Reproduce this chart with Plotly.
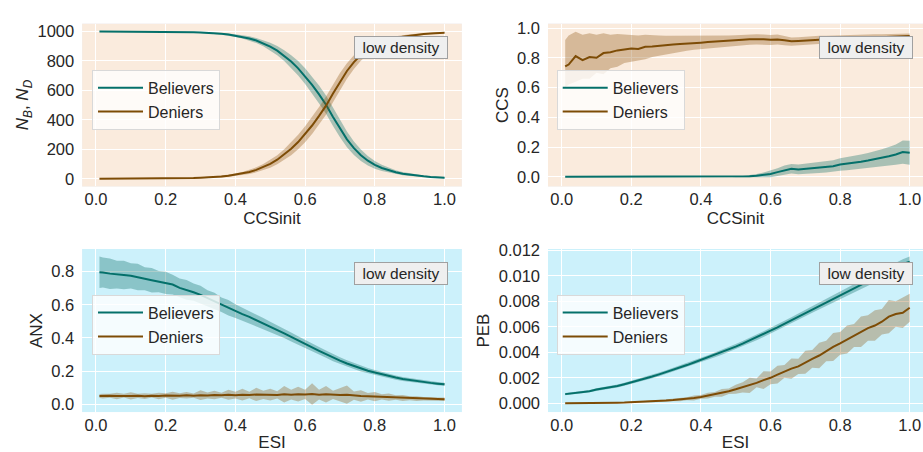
import plotly.graph_objects as go

# ---------------- data ----------------
X = [0.01] + [round(0.02 * k, 2) for k in range(1, 51)]

N_B = [1000, 1000, 1000, 1000, 1000, 1000, 1000, 999, 999, 999, 998,
       998, 997, 996, 995, 993, 991, 988, 984, 979, 972,
       964, 953, 939, 921, 898, 870, 836, 796, 750, 697,
       638, 573, 503, 420, 340, 268, 208, 160, 123, 95,
       74, 58, 45, 35, 28, 22, 17, 13, 10, 8]
N_D = [0, 0, 0, 0, 0, 0, 0, 1, 1, 1, 2,
       2, 3, 4, 5, 7, 9, 12, 16, 21, 28,
       36, 47, 61, 79, 102, 130, 164, 204, 250, 303,
       362, 427, 497, 580, 660, 732, 792, 840, 877, 905,
       926, 942, 955, 965, 972, 978, 983, 987, 990, 992]
N_SD = [1, 1, 1, 1, 1, 1, 1, 1, 1, 1, 2,
        2, 2, 2, 3, 3, 4, 5, 6, 7, 9,
        11, 14, 17, 21, 26, 31, 37, 43, 49, 54,
        58, 61, 62, 61, 58, 53, 46, 39, 32, 26,
        21, 17, 13, 11, 9, 7, 6, 5, 4, 4]

CCS_B = [0.0] * 26 + [0.002, 0.004, 0.008, 0.014, 0.020,
                      0.032, 0.046, 0.055, 0.050, 0.055, 0.059, 0.062, 0.066, 0.072, 0.083,
                      0.088, 0.093, 0.102, 0.110, 0.118, 0.128, 0.138, 0.150, 0.167, 0.162]
CCS_B_SD = [0.0] * 25 + [0.002, 0.004, 0.007, 0.011, 0.016, 0.022,
                         0.026, 0.030, 0.032, 0.033, 0.034, 0.035, 0.036, 0.037, 0.039, 0.042,
                         0.044, 0.046, 0.048, 0.050, 0.053, 0.057, 0.062, 0.068, 0.078, 0.080]
CCS_D = [0.742, 0.755, 0.812, 0.785, 0.805, 0.800, 0.832, 0.838, 0.850, 0.855, 0.862,
         0.860, 0.874, 0.876, 0.882, 0.885, 0.890, 0.893, 0.895, 0.900, 0.902,
         0.906, 0.910, 0.913, 0.916, 0.919, 0.922, 0.925, 0.927, 0.925, 0.921,
         0.924, 0.918, 0.912, 0.914, 0.918, 0.920, 0.922, 0.923, 0.925, 0.927,
         0.929, 0.931, 0.934, 0.936, 0.938, 0.940, 0.943, 0.945, 0.947, 0.947]
CCS_D_LO = [0.60, 0.62, 0.64, 0.66, 0.66, 0.70, 0.69, 0.73, 0.74, 0.765, 0.77,
            0.78, 0.79, 0.805, 0.815, 0.825, 0.833, 0.84, 0.848, 0.855, 0.86,
            0.865, 0.87, 0.873, 0.876, 0.88, 0.884, 0.888, 0.89, 0.89, 0.886,
            0.89, 0.885, 0.882, 0.885, 0.89, 0.893, 0.896, 0.898, 0.90, 0.903,
            0.906, 0.909, 0.912, 0.915, 0.918, 0.921, 0.924, 0.927, 0.93, 0.93]
CCS_D_HI = [0.92, 0.95, 0.975, 0.955, 0.965, 0.955, 0.965, 0.955, 0.96, 0.955, 0.952,
            0.95, 0.955, 0.95, 0.95, 0.948, 0.948, 0.947, 0.946, 0.946, 0.945,
            0.946, 0.947, 0.948, 0.95, 0.952, 0.955, 0.957, 0.958, 0.957, 0.953,
            0.957, 0.945, 0.937, 0.938, 0.942, 0.947, 0.948, 0.948, 0.95, 0.951,
            0.952, 0.953, 0.955, 0.956, 0.958, 0.959, 0.96, 0.962, 0.964, 0.964]

ANX_B = [0.796, 0.795, 0.788, 0.782, 0.780, 0.775, 0.768, 0.757, 0.748, 0.740, 0.732,
         0.722, 0.702, 0.690, 0.676, 0.660, 0.640, 0.622, 0.600, 0.582, 0.562,
         0.544, 0.527, 0.508, 0.486, 0.466, 0.448, 0.428, 0.406, 0.384, 0.362,
         0.342, 0.322, 0.302, 0.281, 0.263, 0.246, 0.230, 0.215, 0.202, 0.192,
         0.181, 0.171, 0.161, 0.153, 0.146, 0.140, 0.134, 0.129, 0.124, 0.120]
ANX_B_SD = [0.095, 0.090, 0.092, 0.083, 0.086, 0.076, 0.080, 0.070, 0.074, 0.064, 0.067,
            0.060, 0.056, 0.059, 0.052, 0.055, 0.048, 0.050, 0.044, 0.047, 0.042,
            0.040, 0.038, 0.036, 0.034, 0.032, 0.030, 0.028, 0.027, 0.026, 0.025,
            0.024, 0.023, 0.022, 0.021, 0.020, 0.019, 0.018, 0.017, 0.016, 0.015,
            0.014, 0.013, 0.013, 0.012, 0.012, 0.011, 0.011, 0.010, 0.010, 0.010]
ANX_D = [0.050, 0.049, 0.051, 0.050, 0.052, 0.050, 0.051, 0.049, 0.052, 0.050, 0.053,
         0.051, 0.052, 0.054, 0.052, 0.055, 0.053, 0.056, 0.054, 0.057, 0.055,
         0.058, 0.056, 0.059, 0.057, 0.058, 0.056, 0.060, 0.058, 0.061, 0.059,
         0.062, 0.058, 0.060, 0.057, 0.056, 0.058, 0.052, 0.050, 0.048, 0.046,
         0.045, 0.043, 0.041, 0.038, 0.036, 0.034, 0.033, 0.032, 0.031, 0.030]
ANX_D_SD = [0.012, 0.015, 0.012, 0.020, 0.012, 0.022, 0.013, 0.018, 0.012, 0.020, 0.014,
            0.024, 0.015, 0.020, 0.013, 0.030, 0.018, 0.026, 0.015, 0.030, 0.020,
            0.035, 0.020, 0.040, 0.025, 0.035, 0.022, 0.050, 0.030, 0.045, 0.028,
            0.065, 0.030, 0.050, 0.025, 0.040, 0.055, 0.025, 0.035, 0.020, 0.028,
            0.016, 0.022, 0.014, 0.018, 0.012, 0.014, 0.010, 0.012, 0.009, 0.010]

PEB_B = [0.00072, 0.00075, 0.00082, 0.00088, 0.00095, 0.00108, 0.00116, 0.00125, 0.00136, 0.00150, 0.00164,
         0.00178, 0.00194, 0.00210, 0.00227, 0.00244, 0.00262, 0.00280, 0.00300, 0.00320, 0.00340,
         0.00360, 0.00380, 0.00400, 0.00422, 0.00445, 0.00468, 0.00492, 0.00517, 0.00543, 0.00570,
         0.00596, 0.00624, 0.00652, 0.00680, 0.00708, 0.00736, 0.00764, 0.00792, 0.00820, 0.00848,
         0.00875, 0.00902, 0.00930, 0.00958, 0.00985, 0.01012, 0.01040, 0.01068, 0.01092, 0.01112]
PEB_B_SD = [0.00008, 0.00008, 0.00009, 0.00009, 0.0001, 0.0001, 0.00011, 0.00011, 0.00012, 0.00012, 0.00013,
            0.00013, 0.00014, 0.00014, 0.00015, 0.00015, 0.00016, 0.00016, 0.00017, 0.00017, 0.00018,
            0.00018, 0.00019, 0.00019, 0.0002, 0.0002, 0.00021, 0.00021, 0.00022, 0.00022, 0.00023,
            0.00023, 0.00024, 0.00024, 0.00025, 0.00025, 0.00026, 0.00027, 0.00028, 0.00029, 0.0003,
            0.00031, 0.00032, 0.00033, 0.00034, 0.00035, 0.00036, 0.00037, 0.00038, 0.00039, 0.0004]
PEB_D = [0.0, 0.0, 0.0, 0.00001, 0.00001, 0.00002, 0.00003, 0.00004, 0.00005, 0.00006, 0.00008,
         0.0001, 0.00012, 0.00015, 0.00018, 0.00022, 0.00026, 0.0003, 0.00036, 0.00042, 0.0005,
         0.0006, 0.0007, 0.00082, 0.00095, 0.0011, 0.00125, 0.0014, 0.0016, 0.00182, 0.002,
         0.00225, 0.0025, 0.00272, 0.0029, 0.00322, 0.00348, 0.00375, 0.0041, 0.00442, 0.0047,
         0.005, 0.00532, 0.00562, 0.0059, 0.0061, 0.0064, 0.0068, 0.007, 0.0071, 0.0075]
PEB_D_SD = [0.00001, 0.00001, 0.00001, 0.00001, 0.00001, 0.00002, 0.00002, 0.00002, 0.00002, 0.00003, 0.00003,
            0.00004, 0.00005, 0.00006, 0.00008, 0.0001, 0.00009, 0.00014, 0.00012, 0.0002, 0.00015,
            0.00022, 0.00018, 0.0003, 0.00022, 0.00035, 0.0004, 0.0006, 0.00035, 0.0007, 0.0005,
            0.0007, 0.0005, 0.0008, 0.0006, 0.0009, 0.0007, 0.001, 0.0008, 0.0011, 0.0009,
            0.0011, 0.0009, 0.0012, 0.001, 0.0012, 0.001, 0.0013, 0.001, 0.0012, 0.0011]

SERIES = ["Believers", "Deniers"]
X_TITLES = ["CCSinit", "CCSinit", "ESI", "ESI"]
Y_TITLES = ["<i>N</i><sub><i>B</i></sub>, <i>N</i><sub><i>D</i></sub>", "CCS", "ANX", "PEB"]
ANNOT_TEXT = "low density"

# ---------------- style ----------------
TEAL = "#04706a"
BROWN = "#7d4c06"
TEAL_FILL = "rgba(1,102,94,0.32)"
BROWN_FILL = "rgba(140,81,10,0.32)"
BG_TOP = "#faebdd"
BG_BOT = "#ccf1fb"
FONT = "Liberation Sans, Arial, sans-serif"
TXT = "#262626"

W, H = 923, 452
def px(v):
    return v / W
def py(v):
    return 1 - v / H

XDOM = [[px(82.2), px(461.8)], [px(548), 1.0]]
YDOM = [[py(182), py(16)], [py(412.3), py(246)]]
XRANGE = [[-0.0395, 1.0495], [-0.0394, 1.0382]]

fig = go.Figure()

def band(lo, hi, fill, ax):
    fig.add_trace(go.Scatter(
        x=X + X[::-1], y=list(hi) + list(lo)[::-1], fill="toself",
        fillcolor=fill, line=dict(width=0), mode="lines",
        showlegend=False, hoverinfo="skip", xaxis="x" + ax, yaxis="y" + ax))

def line(y, color, name, ax, leg):
    fig.add_trace(go.Scatter(
        x=X, y=y, mode="lines", line=dict(color=color, width=2),
        name=name, legend=leg, xaxis="x" + ax, yaxis="y" + ax))

def pm(m, s, sign):
    return [a + sign * b for a, b in zip(m, s)]

panels = [
    (N_B, pm(N_B, N_SD, -1), pm(N_B, N_SD, 1), N_D, pm(N_D, N_SD, -1), pm(N_D, N_SD, 1)),
    (CCS_B, pm(CCS_B, CCS_B_SD, -1), pm(CCS_B, CCS_B_SD, 1), CCS_D, CCS_D_LO, CCS_D_HI),
    (ANX_B, pm(ANX_B, ANX_B_SD, -1), pm(ANX_B, ANX_B_SD, 1), ANX_D, pm(ANX_D, ANX_D_SD, -1), pm(ANX_D, ANX_D_SD, 1)),
    (PEB_B, pm(PEB_B, PEB_B_SD, -1), pm(PEB_B, PEB_B_SD, 1), PEB_D, pm(PEB_D, PEB_D_SD, -1), pm(PEB_D, PEB_D_SD, 1)),
]

axids = ["", "2", "3", "4"]
legids = ["legend", "legend2", "legend3", "legend4"]
for i, (bm, blo, bhi, dm, dlo, dhi) in enumerate(panels):
    ax = axids[i]
    band(blo, bhi, TEAL_FILL, ax)
    line(bm, TEAL, SERIES[0], ax, legids[i])
    band(dlo, dhi, BROWN_FILL, ax)
    line(dm, BROWN, SERIES[1], ax, legids[i])

YRANGE = [[-51, 1053], [-0.0639, 1.0296], [-0.0473, 0.936], [-0.00069, 0.0121]]
YTICKS = [[0, 200, 400, 600, 800, 1000], [0, 0.2, 0.4, 0.6, 0.8, 1.0],
          [0, 0.2, 0.4, 0.6, 0.8], [0, 0.002, 0.004, 0.006, 0.008, 0.010, 0.012]]
YFMT = ["d", ".1f", ".1f", ".3f"]
XTICKS = [0, 0.2, 0.4, 0.6, 0.8, 1.0]

layout = dict(
    width=W, height=H, margin=dict(l=0, r=0, t=0, b=0),
    paper_bgcolor="white", font=dict(family=FONT, color=TXT, size=16),
    showlegend=True, shapes=[], annotations=[],
)

for i in range(4):
    col, row = i % 2, i // 2
    ax = axids[i]
    bg = BG_TOP if row == 0 else BG_BOT
    layout["xaxis" + ax] = dict(
        domain=XDOM[col], range=XRANGE[col], anchor="y" + ax,
        tickvals=XTICKS, tickformat=".1f", showgrid=True, gridcolor="white", gridwidth=1.2,
        zeroline=False, showline=False, ticks="", ticklabelstandoff=1,
        tickfont=dict(size=16.5, color=TXT),
        title=dict(text=X_TITLES[i], font=dict(size=17, color=TXT), standoff=5),
    )
    layout["yaxis" + ax] = dict(
        domain=YDOM[row], range=YRANGE[i], anchor="x" + ax,
        tickvals=YTICKS[i], tickformat=YFMT[i], showgrid=True, gridcolor="white", gridwidth=1.2,
        zeroline=False, showline=False, ticks="", ticklabelstandoff=7,
        tickfont=dict(size=16.5, color=TXT),
        title=dict(text=Y_TITLES[i], font=dict(size=17, color=TXT), standoff=4),
    )
    # plot background
    layout["shapes"].append(dict(
        type="rect", xref="x" + ax + " domain", yref="y" + ax + " domain",
        x0=0, x1=1, y0=0, y1=1, fillcolor=bg, line=dict(width=0), layer="below"))
    # legend
    layout[legids[i]] = dict(
        x=px(92 if col == 0 else 556.7), y=py(63.0 if row == 0 else 292.5),
        xanchor="left", yanchor="top", xref="paper", yref="paper",
        bgcolor="rgba(255,255,255,0.8)", bordercolor="#d9d9d9", borderwidth=1,
        font=dict(size=16, color=TXT, family=FONT), itemwidth=45, tracegroupgap=0,
    )
    # annotation
    layout["annotations"].append(dict(
        text=ANNOT_TEXT, xref="paper", yref="paper",
        x=px(448.3 if col == 0 else 912.7), y=py(28.5 if row == 0 else 259.2),
        xanchor="right", yanchor="top", showarrow=False,
        font=dict(size=15.5, color=TXT, family=FONT),
        bgcolor="#efefef", bordercolor="#a0a0a0", borderwidth=1, borderpad=2,
        width=88, height=17))

fig.update_layout(**layout)
fig.write_html("out.html")
